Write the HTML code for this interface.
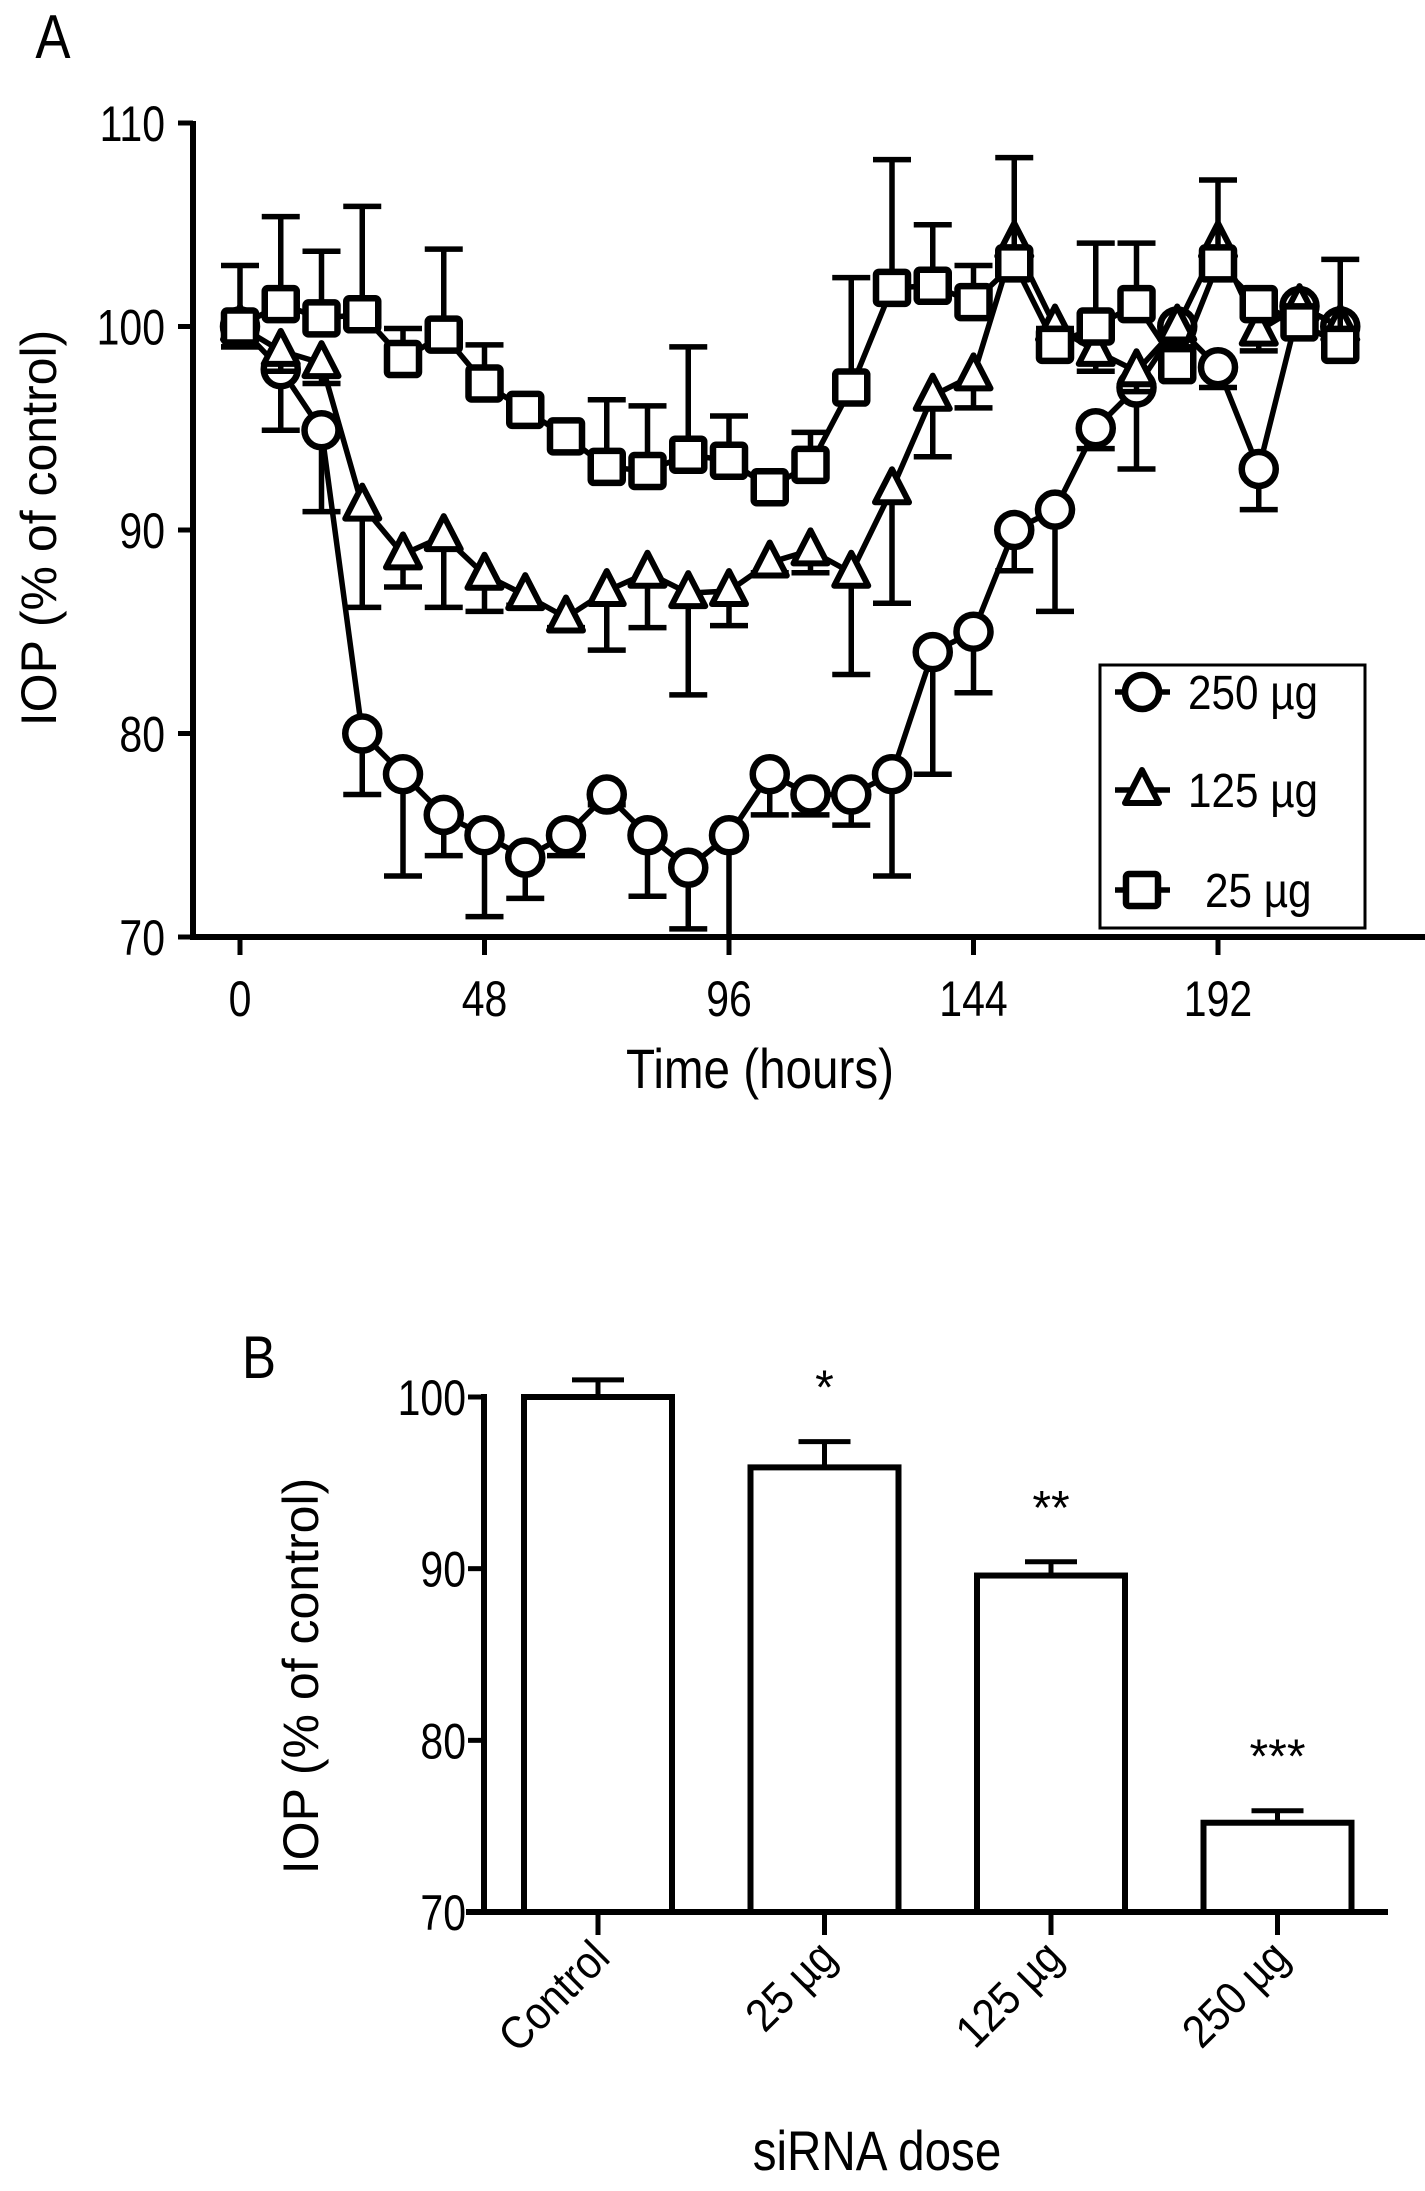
<!DOCTYPE html>
<html><head><meta charset="utf-8"><style>
html,body{margin:0;padding:0;background:#fff;}
svg{display:block;font-family:"Liberation Sans",sans-serif;}
</style></head><body>
<svg id="chart" width="1425" height="2191" viewBox="0 0 1425 2191" xmlns="http://www.w3.org/2000/svg">
<g id="pa"></g>
<g id="pb"></g>
</svg>
<script>
// Panel A data
const hours = [0,8,16,24,32,40,48,56,64,72,80,88,96,104,112,120,128,136,144,152,160,168,176,184,192,200,208,216];
const v250 = [100,97.9,94.9,80,78,76,75,73.9,75,77,75,73.4,75,78,77,77,78,84,85,90,91,95,97,100,98,93,101,100];
const e250 = [1,3,4,3,5,2,4,2,1,0.5,3,3,5,2,1,1.5,5,6,3,2,5,1,4,1,1,2,1,1];
const v125 = [100,98.8,98.2,91.2,88.8,89.7,87.8,86.8,85.7,87,87.9,86.9,87,88.4,89,87.9,92,96.6,97.6,104.1,100,98.8,97.8,100,104.1,99.8,101,100];
const e125 = [1,1,1,5,1.6,3.5,1.8,0.5,0.5,2.9,2.7,5,1.7,0.5,1.1,5,5.6,3,1.6,0.5,1,1,1,1,1,1,1,1];
const v25 = [100,101.1,100.4,100.6,98.4,99.6,97.2,95.9,94.6,93.1,92.9,93.7,93.4,92.1,93.2,97,101.9,102,101.2,103.1,99.1,100,101.1,98.1,103.1,101.1,100.2,99.1];
const e25 = [3,4.3,3.3,5.3,1.5,4.2,1.9,0.5,0.5,3.3,3.2,5.3,2.2,0.5,1.6,5.4,6.3,3,1.8,5.2,0.8,4.1,3,0.8,4.1,0.5,0.8,4.2];
const yTicksA = [70,80,90,100,110];
const xTicksA = [0,48,96,144,192];
// Panel B data
const doses = ["Control","25 µg","125 µg","250 µg"];
const barVals = [100,95.9,89.6,75.2];
const barErrs = [1,1.5,0.8,0.7];
const stars = ["","*","**","***"];
const yTicksB = [70,80,90,100];

const NS="http://www.w3.org/2000/svg";
function mk(parent,tag,attrs,text){const e=document.createElementNS(NS,tag);for(const k in attrs)e.setAttribute(k,attrs[k]);if(text!==undefined)e.textContent=text;parent.appendChild(e);return e;}
// condensed text: anchor at (x,y), scaled horizontally
function ctext(parent,x,y,size,anchor,str,sx){
  return mk(parent,'text',{x:0,y:0,'font-size':size,'text-anchor':anchor,transform:`translate(${x},${y}) scale(${sx||0.82},1)`},str);
}

// ---- Panel A ----
const A=document.getElementById('pa');
const xA=h=>240+h*(978/192);
const yA=v=>937-(v-70)*(814/40);
const SW=5.5;
let t;
t=ctext(A,53,58,62,'middle','A',0.85);

let ax=mk(A,'line',{x1:193,y1:yA(110)-2,x2:193,y2:939,stroke:'#000','stroke-width':6});

ax=mk(A,'line',{x1:190,y1:937,x2:1425,y2:937,stroke:'#000','stroke-width':6});

yTicksA.forEach(v=>{
  const l=mk(A,'line',{x1:178,y1:yA(v),x2:193,y2:yA(v),stroke:'#000','stroke-width':5});
  
  const tt=ctext(A,165,yA(v)+18,50,'end',String(v));
  
});
xTicksA.forEach(h=>{
  const l=mk(A,'line',{x1:xA(h),y1:937,x2:xA(h),y2:955,stroke:'#000','stroke-width':5});
  
  const tt=ctext(A,xA(h),1016,50,'middle',String(h));
  
});
t=ctext(A,760,1088,56,'middle','Time (hours)',0.85);

t=mk(A,'text',{x:0,y:0,'font-size':50,'text-anchor':'middle',transform:'translate(56,528) rotate(-90)'},'IOP (% of control)');


function errbars(g,vals,errs,dir){
  hours.forEach((h,i)=>{
    const v=vals[i],e=errs[i];
    let end=v+dir*e; if(end<70)end=70;
    const x=xA(h);
    const l=mk(g,'line',{x1:x,y1:yA(v),x2:x,y2:yA(end),stroke:'#000','stroke-width':SW});
    
    if(end>70){const c=mk(g,'line',{x1:x-19,y1:yA(end),x2:x+19,y2:yA(end),stroke:'#000','stroke-width':SW});
    }
  });
}
function line(g,vals,name){
  const p=mk(g,'polyline',{points:hours.map((h,i)=>xA(h)+','+yA(vals[i])).join(' '),fill:'none',stroke:'#000','stroke-width':SW,'stroke-linejoin':'round'});
  
}
function marker(g,type,x,y,name){
  let m;
  if(type==='c') m=mk(g,'circle',{cx:x,cy:y,r:17,fill:'#fff',stroke:'#000','stroke-width':6.5});
  else if(type==='t') m=mk(g,'polygon',{points:`${x},${y-20} ${x+17},${y+13} ${x-17},${y+13}`,fill:'#fff',stroke:'#000','stroke-width':6,'stroke-linejoin':'round'});
  else m=mk(g,'rect',{x:x-16,y:y-16,width:32,height:32,rx:3,fill:'#fff',stroke:'#000','stroke-width':6.5});
  
}
const g250=mk(A,'g',{});
const g125=mk(A,'g',{});
const g25=mk(A,'g',{});
errbars(g250,v250,e250,-1);errbars(g125,v125,e125,-1);errbars(g25,v25,e25,1);
line(g250,v250,'line-250ug');line(g125,v125,'line-125ug');line(g25,v25,'line-25ug');
hours.forEach((h,i)=>marker(g250,'c',xA(h),yA(v250[i]),'point-250ug'));
hours.forEach((h,i)=>marker(g125,'t',xA(h),yA(v125[i]),'point-125ug'));
hours.forEach((h,i)=>marker(g25,'s',xA(h),yA(v25[i]),'point-25ug'));

// legend
const L=mk(A,'g',{});
mk(L,'rect',{x:1100,y:665,width:265,height:263,fill:'#fff',stroke:'#000','stroke-width':3});
[['c',692,'250 µg',1188],['t',790,'125 µg',1188],['s',890,'25 µg',1205]].forEach(([ty,y,lab,tx])=>{
  const e=mk(L,'g',{});
  mk(e,'line',{x1:1115,y1:y,x2:1170,y2:y,stroke:'#000','stroke-width':SW});
  marker(e,ty,1142,y,'legend-marker');
  ctext(e,tx,y+17,48,'start',lab,0.88);
});

// ---- Panel B ----
const B=document.getElementById('pb');
const yB=v=>1912-(v-70)*(515/30);
const xB=i=>598+i*226.5;
t=ctext(B,259,1378,60,'middle','B',0.85);

ax=mk(B,'line',{x1:484,y1:yB(100)-3,x2:484,y2:1915,stroke:'#000','stroke-width':6});

ax=mk(B,'line',{x1:466,y1:1912,x2:1388,y2:1912,stroke:'#000','stroke-width':6});

yTicksB.forEach(v=>{
  const l=mk(B,'line',{x1:468,y1:yB(v),x2:484,y2:yB(v),stroke:'#000','stroke-width':5});
  
  const tt=ctext(B,466,yB(v)+18,50,'end',String(v));
  
});
doses.forEach((d,i)=>{
  const x=xB(i),v=barVals[i],e=barErrs[i];
  const b=mk(B,'rect',{x:x-74,y:yB(v),width:148,height:1912-yB(v),fill:'#fff',stroke:'#000','stroke-width':6});
  
  const el=mk(B,'line',{x1:x,y1:yB(v),x2:x,y2:yB(v+e),stroke:'#000','stroke-width':5});
  
  const ec=mk(B,'line',{x1:x-26,y1:yB(v+e),x2:x+26,y2:yB(v+e),stroke:'#000','stroke-width':5});
  
  const tk=mk(B,'line',{x1:x,y1:1912,x2:x,y2:1935,stroke:'#000','stroke-width':5});
  
  const tl=mk(B,'text',{x:0,y:0,'font-size':46,'text-anchor':'end',transform:`translate(${x+14},${1960}) rotate(-45) scale(0.9,1)`},d);
  
  if(stars[i]){const s=mk(B,'text',{x:x,y:yB(v+e)-38,'font-size':48,'text-anchor':'middle'},stars[i]);
  }
});
t=ctext(B,877,2170,56,'middle','siRNA dose',0.85);

t=mk(B,'text',{x:0,y:0,'font-size':50,'text-anchor':'middle',transform:'translate(318,1676) rotate(-90)'},'IOP (% of control)');

</script>
</body></html>
